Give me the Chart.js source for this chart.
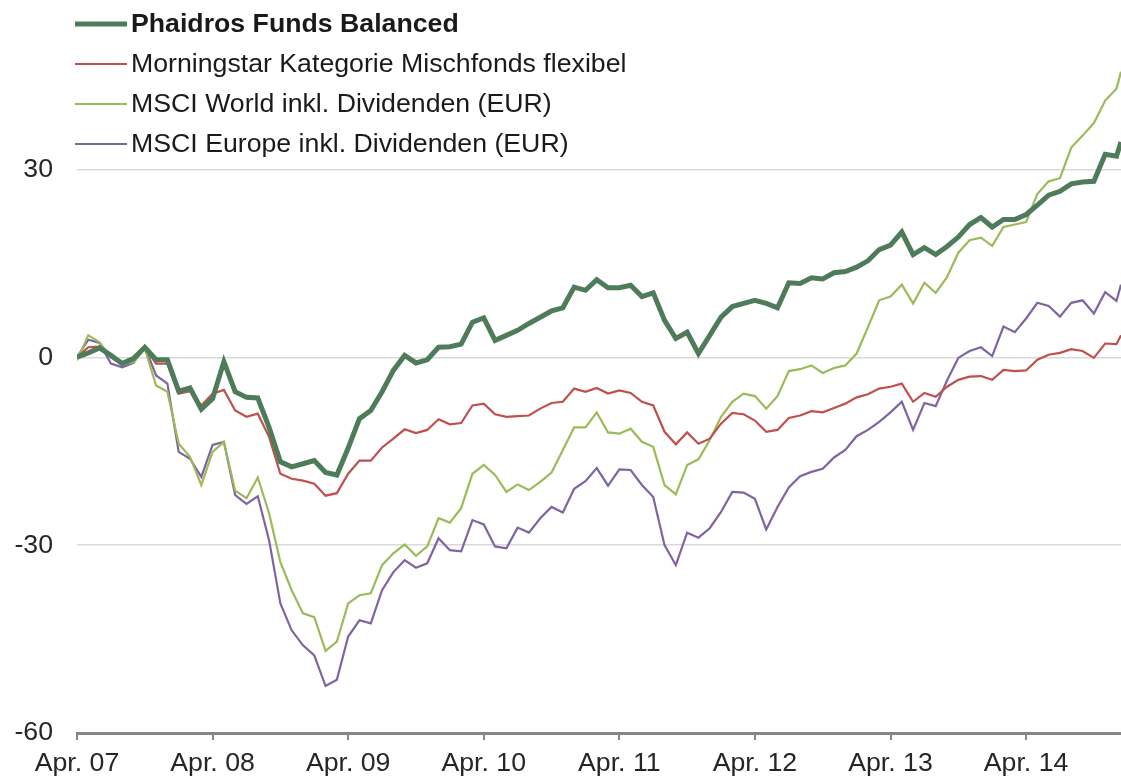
<!DOCTYPE html>
<html>
<head>
<meta charset="utf-8">
<script src="https://cdn.jsdelivr.net/npm/chart.js@4.4.1/dist/chart.umd.min.js"></script>
<style>
  html, body { margin: 0; padding: 0; background: #ffffff; }
  #wrap { width: 1121px; height: 778px; position: relative; }
</style>
</head>
<body>
<div id="wrap"><canvas id="c"></canvas></div>
<script>
// ---- Data (monthly performance in %, Apr 2007 = 0) ----
const seriesNames = [
  'Phaidros Funds Balanced',
  'Morningstar Kategorie Mischfonds flexibel',
  'MSCI World inkl. Dividenden (EUR)',
  'MSCI Europe inkl. Dividenden (EUR)'
];

// month offsets since Apr. 07 (last observation is mid-December 2014)
const obsMonths = [...Array(93).keys(), 92.4];

const phaidros = [0,0.7,1.5,0.3,-1.0,-0.2,1.6,-0.4,-0.4,-5.4,-4.9,-8.3,-6.6,-0.7,-5.5,-6.4,-6.5,-11.2,-16.7,-17.5,-17.0,-16.5,-18.4,-18.8,-14.5,-9.8,-8.5,-5.5,-2.1,0.3,-0.9,-0.4,1.6,1.7,2.1,5.6,6.3,2.7,3.5,4.3,5.4,6.4,7.4,7.9,11.2,10.7,12.4,11.1,11.1,11.5,9.7,10.3,5.9,3.0,4.0,0.6,3.5,6.4,8.1,8.6,9.1,8.6,7.9,11.9,11.8,12.7,12.5,13.5,13.7,14.4,15.4,17.2,17.9,20.0,16.4,17.5,16.4,17.7,19.2,21.2,22.3,20.8,22.0,22.0,22.8,24.3,25.9,26.5,27.7,28.0,28.1,32.4,32.1,34.4];

const morningstar = [0,1.6,1.7,0.3,-0.8,0,1.6,-1.0,-1.0,-5.8,-5.4,-7.7,-5.8,-5.2,-8.5,-9.5,-9.0,-12.7,-18.6,-19.4,-19.7,-20.2,-22.1,-21.7,-18.6,-16.5,-16.5,-14.4,-13.0,-11.5,-12.1,-11.6,-9.9,-10.7,-10.5,-7.7,-7.4,-9.1,-9.5,-9.4,-9.3,-8.2,-7.3,-7.1,-5.0,-5.5,-4.9,-5.8,-5.3,-5.7,-7.1,-7.7,-11.9,-13.9,-12.0,-13.8,-13.0,-10.6,-8.9,-9.1,-10.1,-11.9,-11.6,-9.7,-9.3,-8.6,-8.8,-8.1,-7.4,-6.4,-5.9,-5.0,-4.7,-4.2,-7.1,-5.7,-6.3,-4.7,-3.6,-3.1,-3.0,-3.6,-2.0,-2.2,-2.1,-0.4,0.4,0.7,1.3,1.0,-0.1,2.2,2.1,3.5];

const msciWorld = [-0.5,3.5,2.4,0,-1.0,-0.8,1.4,-4.5,-5.5,-13.8,-15.9,-20.4,-15.1,-13.5,-21.3,-22.5,-19.2,-24.9,-32.7,-37.2,-40.9,-41.5,-46.9,-45.4,-39.3,-38.0,-37.7,-33.2,-31.3,-29.9,-31.7,-30.2,-25.7,-26.4,-24.1,-18.6,-17.2,-18.8,-21.5,-20.3,-21.2,-19.9,-18.4,-14.8,-11.2,-11.2,-8.8,-12.0,-12.2,-11.4,-13.5,-14.3,-20.4,-21.9,-17.2,-16.3,-13.2,-9.5,-7.1,-5.8,-6.2,-8.2,-6.2,-2.2,-1.9,-1.3,-2.5,-1.7,-1.3,0.6,4.8,9.1,9.7,11.6,8.6,11.9,10.3,12.8,16.7,18.7,19.1,17.8,20.8,21.2,21.6,26.1,28.1,28.6,33.5,35.4,37.4,41.0,42.9,45.6];

const msciEurope = [0,2.8,2.3,-1.0,-1.6,-0.9,1.7,-2.9,-4.2,-15.1,-16.2,-19.1,-14.0,-13.5,-22.0,-23.4,-22.2,-29.2,-39.3,-43.6,-46.0,-47.6,-52.5,-51.5,-44.6,-42.0,-42.5,-37.2,-34.3,-32.4,-33.6,-32.9,-28.9,-30.8,-31.0,-26.0,-26.7,-30.2,-30.5,-27.2,-28.0,-25.7,-23.9,-24.8,-21.0,-19.8,-17.7,-20.5,-17.9,-18.0,-20.4,-22.3,-30.0,-33.2,-28.0,-28.8,-27.3,-24.7,-21.5,-21.6,-22.6,-27.5,-23.9,-20.8,-19.0,-18.3,-17.8,-16.0,-14.8,-12.6,-11.6,-10.3,-8.8,-7.1,-11.6,-7.3,-7.8,-3.7,-0.1,1.0,1.6,0.2,4.9,4.0,6.2,8.7,8.2,6.5,8.7,9.1,7.0,10.4,9.0,11.6];

const xTickLabels = ['Apr. 07','Apr. 08','Apr. 09','Apr. 10','Apr. 11','Apr. 12','Apr. 13','Apr. 14'];
const xTickMonths = [0,12,24,36,48,60,72,84];
const yTickValues = [-60,-30,0,30];

// ---- Styling ----
const FONT = '"Liberation Sans", Arial, sans-serif';
const FS = 26.7;
const colors = ['#4E7B5A', '#C0504D', '#9BBB59', '#8064A2'];
const widths = [5, 2.2, 2.2, 2.2];

const allSeries = [phaidros, morningstar, msciWorld, msciEurope];
const datasets = allSeries.map((vals, k) => ({
  label: seriesNames[k],
  data: vals.map((v, i) => ({ x: obsMonths[i], y: v })),
  borderColor: colors[k],
  backgroundColor: colors[k],
  borderWidth: widths[k],
  pointRadius: 0,
  tension: 0,
  fill: false,
  order: k
}));

// custom legend drawn on the canvas (first entry in bold)
const legendPlugin = {
  id: 'customLegend',
  afterDraw(chart) {
    const ctx = chart.ctx;
    ctx.save();
    const x0 = 75, x1 = 127, tx = 131;
    const rows = [24, 64, 104, 144];
    chart.data.datasets.forEach((ds, k) => {
      const y = rows[k];
      ctx.strokeStyle = ds.borderColor;
      ctx.lineWidth = ds.borderWidth;
      ctx.beginPath();
      ctx.moveTo(x0, y);
      ctx.lineTo(x1, y);
      ctx.stroke();
      ctx.fillStyle = '#1a1a1a';
      ctx.textBaseline = 'middle';
      ctx.textAlign = 'left';
      ctx.font = (k === 0 ? 'bold ' : '') + FS + 'px ' + FONT;
      ctx.fillText(ds.label, tx, y + 1);
    });
    ctx.restore();
  }
};

new Chart(document.getElementById('c'), {
  type: 'line',
  data: { datasets: datasets },
  options: {
    responsive: true,
    maintainAspectRatio: false,
    animation: false,
    layout: { padding: { top: 0, right: 0, left: 0, bottom: 0 } },
    plugins: { legend: { display: false }, tooltip: { enabled: false } },
    scales: {
      x: {
        type: 'linear',
        min: 0,
        max: obsMonths[obsMonths.length - 1],
        afterBuildTicks: s => { s.ticks = xTickMonths.map(v => ({ value: v })); },
        afterFit: s => { s.height = 45; },
        ticks: {
          autoSkip: false,
          maxRotation: 0,
          padding: 8,
          color: '#262626',
          font: { family: FONT, size: FS },
          callback: (v) => xTickLabels[xTickMonths.indexOf(v)]
        },
        grid: { drawOnChartArea: false, drawTicks: true, tickLength: 7, color: '#868686', lineWidth: 2 },
        border: { display: true, color: '#868686', width: 3 }
      },
      y: {
        min: -60,
        max: 54.5,
        afterBuildTicks: s => { s.ticks = yTickValues.map(v => ({ value: v })); },
        afterFit: s => { s.width = 77; },
        ticks: {
          padding: 0,
          color: '#262626',
          font: { family: FONT, size: FS }
        },
        grid: { drawTicks: true, tickLength: 24, tickColor: 'rgba(0,0,0,0)', color: '#d9d9d9', lineWidth: 1.5 },
        border: { display: false }
      }
    }
  },
  plugins: [legendPlugin]
});
</script>
</body>
</html>
